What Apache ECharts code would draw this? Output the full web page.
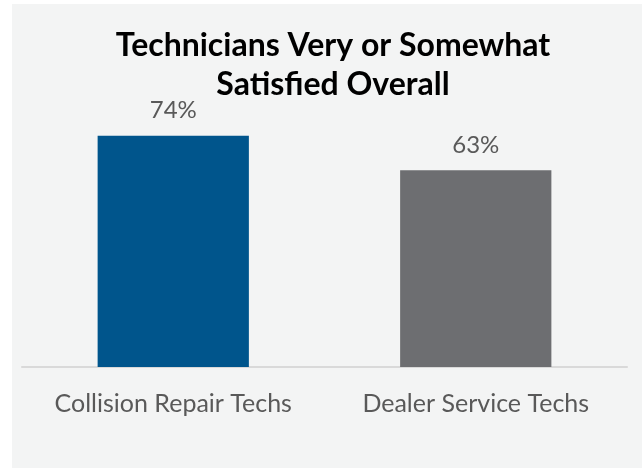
<!DOCTYPE html>
<html><head><meta charset="utf-8">
<script src="https://cdn.jsdelivr.net/npm/echarts@6/dist/echarts.min.js"></script>
<style>html,body{margin:0;padding:0;background:#fff}#c{width:642px;height:468px}</style>
</head><body><div id="c"></div>
<script>
const categories = ['Collision Repair Techs', 'Dealer Service Techs'];
const values = [74, 63];
const barColors = ['#00558c', '#6d6e71'];
const titleText = 'Technicians Very or Somewhat\nSatisfied Overall';

const chart = echarts.init(document.getElementById('c'));
chart.setOption({
  backgroundColor: '#ffffff',
  animation: false,
  graphic: [{ type: 'rect', z: -10, shape: { x: 12, y: 4, width: 640, height: 470 }, style: { fill: '#f3f4f4' } }],
  title: {
    text: titleText, left: 328, top: 21, textAlign: 'center',
    textStyle: { fontFamily: 'Lato', fontWeight: 'bold', fontSize: 32, lineHeight: 39, color: '#000' }
  },
  grid: { left: 22, right: 15, top: 54.5, bottom: 101, containLabel: false },
  xAxis: {
    type: 'category', data: categories,
    axisLine: { lineStyle: { color: '#d9d9d9', width: 2 } },
    axisTick: { show: false },
    axisLabel: { interval: 0, fontFamily: 'Lato', fontSize: 25, color: '#595959', margin: 24 }
  },
  yAxis: { type: 'value', min: 0, max: 100, show: false, splitLine: { show: false } },
  series: [{
    type: 'bar', barWidth: '50%',
    data: values.map((v, i) => ({ value: v, itemStyle: { color: barColors[i] } })),
    label: { show: true, position: 'top', distance: 13, formatter: '{c}%', fontFamily: 'Lato', fontSize: 24, color: '#595959' }
  }]
});
</script></body></html>
